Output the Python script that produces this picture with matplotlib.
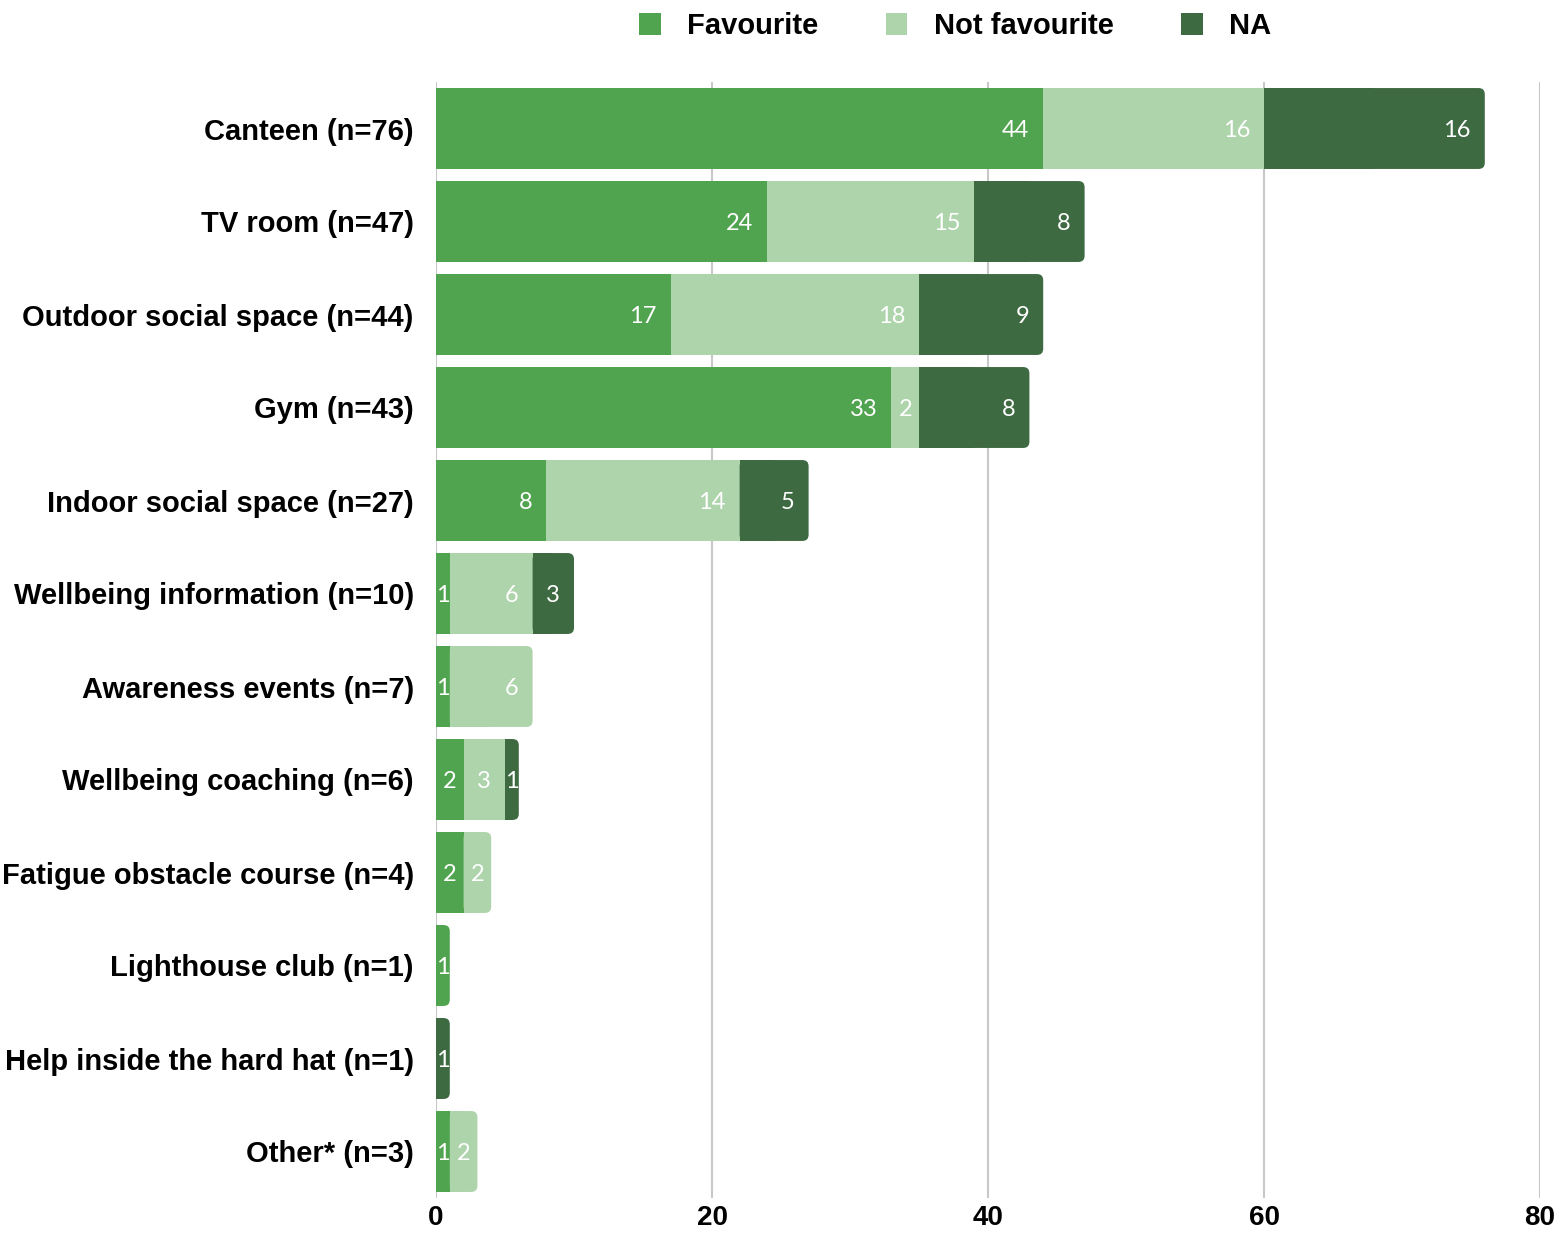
import matplotlib
matplotlib.use("Agg")
import matplotlib.pyplot as plt
from matplotlib.patches import Patch, FancyBboxPatch

plt.rcParams['font.family'] = ['Lato', 'DejaVu Sans']
BOLD = ['Liberation Sans', 'DejaVu Sans']

categories = [
    "Canteen (n=76)", "TV room (n=47)", "Outdoor social space (n=44)",
    "Gym (n=43)", "Indoor social space (n=27)", "Wellbeing information (n=10)",
    "Awareness events (n=7)", "Wellbeing coaching (n=6)",
    "Fatigue obstacle course (n=4)", "Lighthouse club (n=1)",
    "Help inside the hard hat (n=1)", "Other* (n=3)",
]
favourite = [44, 24, 17, 33, 8, 1, 1, 2, 2, 1, 0, 1]
not_favourite = [16, 15, 18, 2, 14, 6, 6, 3, 2, 0, 0, 2]
na = [16, 8, 9, 8, 5, 3, 0, 1, 0, 0, 1, 0]

series = [
    ("Favourite", favourite, "#51a44f"),
    ("Not favourite", not_favourite, "#aed4ac"),
    ("NA", na, "#3e6a42"),
]
xticks = [0, 20, 40, 60, 80]
BAR_H = 0.87

fig = plt.figure(figsize=(15.62, 12.35), dpi=100)
ax = fig.add_axes([436 / 1562, 1 - 1198 / 1235, (1540 - 436) / 1562, (1198 - 82) / 1235])

ypos = list(range(len(categories)))
totals = [sum(t) for t in zip(favourite, not_favourite, na)]
left = [0] * len(categories)
for name, vals, color in series:
    for y, v, l in zip(ypos, vals, left):
        if v == 0:
            continue
        if l + v == totals[y]:
            # last segment: round the right-hand corners
            ax.add_patch(FancyBboxPatch((l, y - BAR_H / 2), v, BAR_H,
                                        boxstyle="round,pad=0,rounding_size=0.45",
                                        mutation_aspect=0.148, facecolor=color,
                                        edgecolor="none", zorder=2))
            ax.barh(y, v / 2, left=l, height=BAR_H, color=color, zorder=2)
        else:
            ax.barh(y, v, left=l, height=BAR_H, color=color, zorder=2)
        if v <= 3:
            ax.text(l + v / 2, y, str(v), ha="center", va="center_baseline",
                    color="white", fontsize=17, zorder=3)
        else:
            ax.annotate(str(v), (l + v, y), xytext=(-10, 0),
                        textcoords="offset points", ha="right",
                        va="center_baseline", color="white", fontsize=17, zorder=3)
    left = [a + b for a, b in zip(left, vals)]

ax.set_xlim(0, 80)
ax.set_ylim(len(categories) - 0.5, -0.5)
ax.set_yticks(ypos)
ax.set_yticklabels(categories, fontsize=21, fontweight="bold", family=BOLD)
ax.set_xticks(xticks)
ax.set_xticklabels([str(t) for t in xticks], fontsize=20, fontweight="bold", family=BOLD)
ax.tick_params(axis="both", length=0)
ax.tick_params(axis="y", pad=16)
ax.tick_params(axis="x", pad=5)
for s in ax.spines.values():
    s.set_visible(False)
ax.grid(axis="x", color="#c8c8c8", linewidth=1.5, zorder=0)
ax.set_axisbelow(True)

handles = [Patch(facecolor=c, label=n) for n, _, c in series]
fig.legend(handles=handles, loc="center", bbox_to_anchor=(955 / 1562, 1 - 26 / 1235),
           ncol=3, frameon=False,
           prop={"size": 21, "weight": "bold", "family": BOLD},
           handlelength=0.75, handleheight=0.75, columnspacing=2.3, handletextpad=0.9)

fig.text(140 / 1562, 1.006, "favourite facilities?)", fontsize=18, va="baseline")

fig.savefig("out.png", dpi=100)
